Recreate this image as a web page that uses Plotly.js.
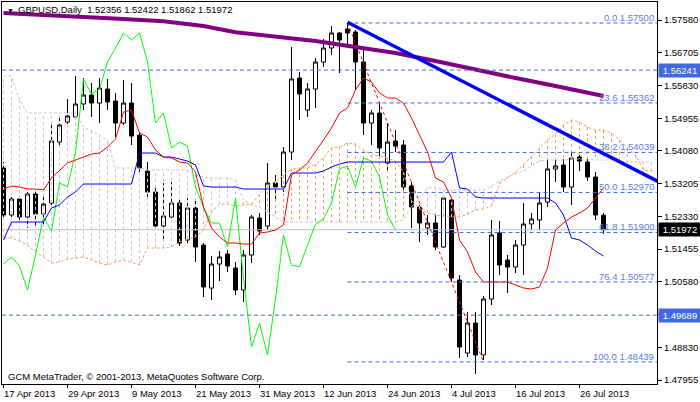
<!DOCTYPE html>
<html><head><meta charset="utf-8">
<script src="https://cdn.plot.ly/plotly-3.0.1.min.js"></script>
<style>html,body{margin:0;padding:0;background:#fff}#chart{width:700px;height:402px}</style>
</head><body><div id="chart"></div>
<script>
const symbol = 'GBPUSD';
const timeframe = 'Daily';
const open = [1.53623,1.52366,1.52794,1.52313,1.52928,1.52393,1.52687,1.54318,1.54853,1.54987,
1.55334,1.55575,1.55361,1.55735,1.55414,1.54826,1.55361,1.54505,1.53543,1.52981,
1.52072,1.52313,1.52687,1.51698,1.52553,1.51564,1.50414,1.51056,1.51324,1.50949,
1.50361,1.51297,1.52286,1.52072,1.53222,1.53115,1.54051,1.56029,1.55174,1.55735,
1.56457,1.56832,1.57233,1.57340,1.57259,1.56457,1.54826,1.55094,1.53757,1.54345,
1.54238,1.53142,1.52580,1.52019,1.52152,1.51511,1.52767,1.50628,1.48676,1.49479,
1.48623,1.50120,1.51885,1.51163,1.50976,1.51564,1.52126,1.52233,1.52714,1.53596,
1.53703,1.53115,1.53917,1.53783,1.53382,1.52356];
const high = [1.53783,1.52848,1.52874,1.52981,1.52981,1.52874,1.54826,1.54960,1.55468,1.56083,
1.56029,1.55896,1.56029,1.56003,1.55628,1.55976,1.55896,1.54586,1.53783,1.53168,
1.53222,1.53249,1.52767,1.52821,1.52794,1.51618,1.51270,1.51404,1.51430,1.51110,
1.51430,1.52366,1.52420,1.53757,1.53436,1.54185,1.56858,1.56190,1.55896,1.56564,
1.57072,1.57420,1.57259,1.57500,1.57313,1.56805,1.55174,1.55361,1.54826,1.54639,
1.54372,1.53249,1.52634,1.52366,1.52366,1.52901,1.52874,1.50762,1.49773,1.49773,
1.50200,1.52233,1.52206,1.51297,1.51698,1.52687,1.52420,1.52955,1.53837,1.53837,
1.53864,1.54051,1.53971,1.53917,1.53516,1.52422];
const low = [1.52286,1.52286,1.52233,1.52019,1.52019,1.52045,1.52634,1.54238,1.54799,1.54933,
1.55174,1.54987,1.54826,1.55174,1.54452,1.54773,1.54238,1.53436,1.52767,1.52019,
1.51698,1.52286,1.51537,1.51618,1.51110,1.50174,1.50094,1.50602,1.50842,1.50227,
1.50040,1.51083,1.51832,1.51965,1.52714,1.52981,1.53837,1.54906,1.54987,1.55227,
1.56324,1.56644,1.56163,1.56832,1.55709,1.54505,1.54238,1.53917,1.53489,1.54051,
1.52981,1.52019,1.51644,1.51832,1.51430,1.51484,1.50575,1.48543,1.48570,1.48115,
1.48489,1.49960,1.50762,1.50281,1.50816,1.50762,1.51965,1.51965,1.52580,1.53249,
1.52981,1.52634,1.53543,1.53275,1.52233,1.51862];
const close = [1.52366,1.52794,1.52313,1.52928,1.52393,1.52660,1.54345,1.54773,1.55013,1.55334,
1.55575,1.55361,1.55762,1.55388,1.54826,1.55361,1.54478,1.53623,1.52981,1.52072,
1.52340,1.52687,1.51618,1.52553,1.51511,1.50441,1.51056,1.51243,1.51003,1.50361,
1.51297,1.52313,1.51939,1.53222,1.53115,1.54051,1.56003,1.55602,1.55735,1.56457,
1.56832,1.57233,1.57045,1.57233,1.56457,1.54826,1.55094,1.54158,1.54318,1.54211,
1.53115,1.52580,1.52152,1.52152,1.51511,1.52821,1.50682,1.48837,1.49479,1.48623,
1.50120,1.51832,1.51029,1.50976,1.51564,1.52126,1.52259,1.52687,1.53596,1.53676,
1.53115,1.53890,1.53810,1.53382,1.52366,1.51972];
const tenkan = [1.53062,1.53142,1.53115,1.53062,1.53062,1.53035,1.53356,1.53570,1.53757,1.53837,
1.53917,1.53997,1.54024,1.54185,1.54398,1.55120,1.55174,1.54559,1.54452,1.54104,
1.53917,1.53890,1.53783,1.53757,1.53516,1.52580,1.52019,1.51778,1.51618,1.51618,
1.51591,1.51591,1.51885,1.51912,1.51965,1.52099,1.53436,1.53570,1.53757,1.54051,
1.54372,1.54693,1.55094,1.55227,1.55709,1.56029,1.55923,1.55628,1.55495,1.55495,
1.55361,1.54960,1.54505,1.54051,1.53356,1.53249,1.52821,1.51698,1.51377,1.50842,
1.50575,1.50575,1.50575,1.50575,1.50495,1.50415,1.50388,1.50441,1.50949,1.51965,
1.52152,1.52313,1.52420,1.52553,1.52821,1.53088];
const kijun = [1.51698,1.52179,1.52179,1.52179,1.52179,1.52179,1.52553,1.52634,1.52848,1.52981,
1.53195,1.53195,1.53195,1.53195,1.53195,1.53195,1.53195,1.54024,1.54024,1.54024,
1.53917,1.53917,1.53864,1.53810,1.53703,1.53142,1.53115,1.53115,1.53115,1.53115,
1.53062,1.53062,1.53062,1.53062,1.53062,1.53062,1.53489,1.53489,1.53489,1.53489,
1.53543,1.53650,1.53730,1.53783,1.53783,1.53783,1.53783,1.53783,1.53783,1.53783,
1.53783,1.53783,1.53783,1.53783,1.53783,1.53783,1.54051,1.53088,1.53062,1.52848,
1.52821,1.52821,1.52821,1.52821,1.52821,1.52821,1.52821,1.52821,1.52821,1.52687,
1.52366,1.51751,1.51698,1.51564,1.51404,1.51270];
const spanA = [1.51751,1.51751,1.51671,1.51564,1.51377,1.51243,1.51083,1.51110,1.51190,1.51217,
1.51243,1.51163,1.51083,1.51029,1.51110,1.51163,1.51110,1.51029,1.51484,1.51484,
1.51484,1.51511,1.51644,1.51725,1.51778,1.51965,1.52447,1.52660,1.52660,1.52607,
1.52634,1.52660,1.52928,1.53142,1.53275,1.53436,1.53596,1.53623,1.53623,1.53730,
1.53890,1.54158,1.54185,1.54292,1.54265,1.54104,1.53971,1.53944,1.53890,1.53810,
1.53516,1.52767,1.52527,1.52420,1.52366,1.52340,1.52313,1.52313,1.52393,1.52500,
1.52527,1.52607,1.53195,1.53356,1.53516,1.53703,1.53944,1.54158,1.54372,1.54532,
1.54773,1.54906,1.54853,1.54719,1.54639,1.54639,1.54559,1.54372,1.54158,1.53971,
1.53570,1.53543];
const spanB = [1.56083,1.56083,1.55441,1.55094,1.55094,1.55094,1.55094,1.55094,1.55094,1.55094,
1.54719,1.54612,1.54505,1.54345,1.53623,1.53623,1.53623,1.53623,1.53570,1.53570,
1.53570,1.53570,1.53570,1.53570,1.53436,1.53382,1.53356,1.53356,1.53356,1.53302,
1.52767,1.52634,1.52580,1.52447,1.52313,1.52179,1.52179,1.52179,1.52179,1.52179,
1.52179,1.52179,1.52179,1.52179,1.52179,1.52179,1.52179,1.52179,1.52179,1.52179,
1.52233,1.52580,1.52821,1.53088,1.53115,1.53035,1.53035,1.53035,1.53035,1.53035,
1.53035,1.53142,1.53275,1.53382,1.53463,1.53543,1.53677,1.53810,1.53837,1.53837,
1.53837,1.53864,1.53864,1.53864,1.53837,1.53837,1.53837,1.53810,1.53783,1.53783,
1.53783,1.53783];
const chikouShift = 26;
const maIdx = [0,5,10,15,20,25,29,34,39,44,49,54,59,64,69,75];
const maVal = [1.57768,1.57722,1.57661,1.57610,1.57546,1.57420,1.57255,1.57139,1.57019,1.56858,1.56698,1.56484,1.56243,1.56029,1.55816,1.55548];
const tickIdx = [0,8,16,24,32,40,48,56,64,72];
const tickDates = ['17 Apr 2013','29 Apr 2013','9 May 2013','21 May 2013','31 May 2013','12 Jun 2013','24 Jun 2013','4 Jul 2013','16 Jul 2013','26 Jul 2013'];
const priceTicks = [1.57580,1.56705,1.55830,1.54955,1.54080,1.53205,1.52330,1.51455,1.50580,1.49705,1.48830,1.47955];
const fibLevels = [0.0,23.6,38.2,50.0,61.8,76.4,100.0];
const fibPrices = [1.57500,1.55362,1.54039,1.52970,1.51900,1.50577,1.48439];
const fibIdx = [43,60];
const hLines = [1.56241,1.49689];
const trendIdx = [43,75];
const trendPrice = [1.5752,1.5401];
const copyright = 'GCM MetaTrader, \u00a9 2001-2013, MetaQuotes Software Corp.';

const X0 = -0.1875, X1 = 81.6875, Y0 = 1.47848, Y1 = 1.58062;
const FONT = 'Liberation Sans, Arial, sans-serif';
const idx = open.map((_, i) => i);
const cloudIdx = spanA.map((_, i) => i);
const bid = close[close.length - 1];

function hatch(cond) {
  const xs = [], ys = [];
  cloudIdx.forEach(i => { if (cond(i)) { xs.push(i, i, null); ys.push(spanA[i], spanB[i], null); } });
  return {xs, ys};
}
const hT = hatch(i => spanB[i] > spanA[i]);
const hO = hatch(i => spanA[i] >= spanB[i]);
const slope = (trendPrice[1] - trendPrice[0]) / (trendIdx[1] - trendIdx[0]);

const traces = [];
traces.push({type:'candlestick', x: idx, open, high, low, close,
  increasing:{line:{color:'#000', width:1}, fillcolor:'#fff'},
  decreasing:{line:{color:'#000', width:1}, fillcolor:'#000'},
  whiskerwidth:0, hoverinfo:'skip', showlegend:false});
traces.push({type:'scatter', mode:'lines', x:[X0, X1], y:[bid, bid], line:{color:'#c0c0c0', width:1}, hoverinfo:'skip'});
traces.push({type:'scatter', mode:'lines', x:hT.xs, y:hT.ys, line:{color:'#d8bfd8', width:1, dash:'3px,3px'}, hoverinfo:'skip', connectgaps:false});
traces.push({type:'scatter', mode:'lines', x:hO.xs, y:hO.ys, line:{color:'#f4a460', width:1, dash:'3px,3px'}, hoverinfo:'skip', connectgaps:false});
traces.push({type:'scatter', mode:'lines', x:cloudIdx, y:spanB, line:{color:'#d8bfd8', width:1, dash:'3px,2px'}, hoverinfo:'skip'});
traces.push({type:'scatter', mode:'lines', x:cloudIdx, y:spanA, line:{color:'#f4a460', width:1, dash:'3px,2px'}, hoverinfo:'skip'});
traces.push({type:'scatter', mode:'lines', x:maIdx, y:maVal, line:{color:'#800080', width:4}, hoverinfo:'skip'});
const chik = close.slice(chikouShift);
traces.push({type:'scatter', mode:'lines', x:chik.map((_, i) => i), y:chik, line:{color:'#00ff00', width:1}, hoverinfo:'skip'});
traces.push({type:'scatter', mode:'lines', x:idx, y:kijun, line:{color:'#0000ff', width:1}, hoverinfo:'skip'});
traces.push({type:'scatter', mode:'lines', x:idx, y:tenkan, line:{color:'#ff0000', width:1}, hoverinfo:'skip'});
hLines.forEach(p => traces.push({type:'scatter', mode:'lines', x:[X0, X1], y:[p, p], line:{color:'#4169e1', width:1, dash:'4px,3px'}, hoverinfo:'skip'}));
fibPrices.forEach(p => traces.push({type:'scatter', mode:'lines', x:[fibIdx[0], X1], y:[p, p], line:{color:'#4169e1', width:1, dash:'4px,3px'}, hoverinfo:'skip'}));
traces.push({type:'scatter', mode:'lines', x:fibIdx, y:[fibPrices[0], fibPrices[fibPrices.length-1]], line:{color:'#ff0000', width:1, dash:'dot'}, hoverinfo:'skip'});
traces.push({type:'scatter', mode:'lines', x:[trendIdx[0], X1 + 1], y:[trendPrice[0], trendPrice[0] + slope * (X1 + 1 - trendIdx[0])], line:{color:'#0000ff', width:3.5}, hoverinfo:'skip'});

const ann = [];
ann.push({xref:'paper', yref:'paper', x:0, y:1, xanchor:'left', yanchor:'top', xshift:3, yshift:-3, text:'\u25bc', showarrow:false, font:{family:FONT, size:7, color:'#000'}});
ann.push({xref:'paper', yref:'paper', x:0, y:1, xanchor:'left', yanchor:'top', xshift:14, yshift:0,
  text: symbol + ',' + timeframe + '  ' + [open, high, low, close].map(a => a[a.length-1].toFixed(5)).join(' '),
  showarrow:false, font:{family:FONT, size:9.5, color:'#000'}});
ann.push({xref:'paper', yref:'paper', x:0, y:0, xanchor:'left', yanchor:'bottom', xshift:4, yshift:0, text:copyright, showarrow:false, font:{family:FONT, size:9.5, color:'#000'}});
tickIdx.forEach((k, i) => ann.push({xref:'x', yref:'paper', x:k, y:0, xanchor:'left', yanchor:'top', xshift:-2, yshift:-2, text:tickDates[i], showarrow:false, font:{family:FONT, size:9.5, color:'#000'}}));
fibPrices.forEach((p, i) => ann.push({xref:'paper', yref:'y', x:1, y:p, xanchor:'right', yanchor:'bottom', xshift:-1, yshift:-2, text:fibLevels[i].toFixed(1) + ' ' + p.toFixed(5), showarrow:false, font:{family:FONT, size:9.5, color:'#5a7ee6'}}));
hLines.forEach(p => ann.push({xref:'paper', yref:'y', x:1, y:p, xanchor:'left', yanchor:'middle', xshift:1, text:p.toFixed(5), showarrow:false, bgcolor:'#4169e1', width:40, height:11, borderpad:1, align:'center', font:{family:FONT, size:9.5, color:'#fff'}}));
ann.push({xref:'paper', yref:'y', x:1, y:bid, xanchor:'left', yanchor:'middle', xshift:1, text:bid.toFixed(5), showarrow:false, bgcolor:'#000', width:40, height:11, borderpad:1, align:'center', font:{family:FONT, size:9.5, color:'#fff'}});

const layout = {
  width:700, height:402, margin:{l:2, r:43, t:2, b:18},
  paper_bgcolor:'#fff', plot_bgcolor:'#fff', showlegend:false, hovermode:false,
  boxgap:0.25, boxgroupgap:0.33,
  xaxis:{type:'linear', range:[X0, X1], showgrid:false, zeroline:false, rangeslider:{visible:false},
    tickmode:'array', tickvals:tickIdx, showticklabels:false, ticks:'outside', ticklen:3, tickcolor:'#000',
    showline:true, mirror:true, linecolor:'#000', linewidth:1, fixedrange:true},
  yaxis:{range:[Y0, Y1], side:'right', showgrid:false, zeroline:false,
    tickmode:'array', tickvals:priceTicks, ticktext:priceTicks.map(v => v.toFixed(5)),
    ticks:'outside', ticklen:4, tickcolor:'#000', tickfont:{family:FONT, size:9.5, color:'#000'},
    showline:true, mirror:true, linecolor:'#000', linewidth:1, fixedrange:true},
  annotations: ann
};
Plotly.newPlot('chart', traces, layout, {displayModeBar:false, staticPlot:true});
</script></body></html>
